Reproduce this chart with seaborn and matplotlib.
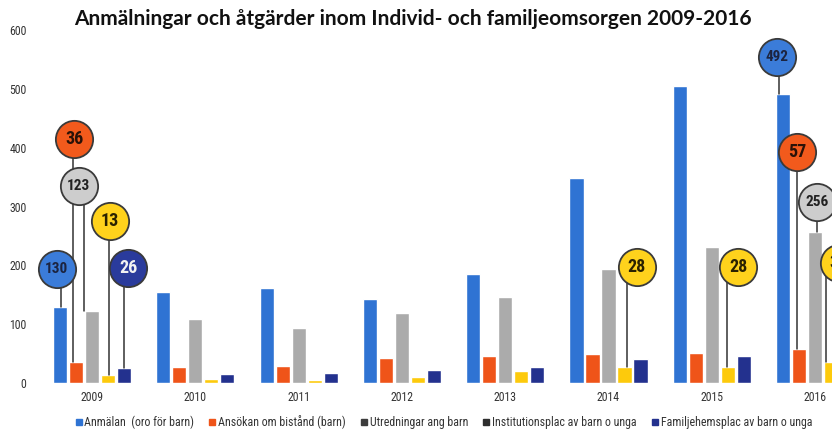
import numpy as np
import pandas as pd
import matplotlib
matplotlib.use("Agg")
import matplotlib.pyplot as plt
from matplotlib.lines import Line2D
from matplotlib import font_manager
import seaborn as sns

# ---- data ----
years = ["2009", "2010", "2011", "2012", "2013", "2014", "2015", "2016"]
series = ["Anmälan  (oro för barn)", "Ansökan om bistånd (barn)", "Utredningar ang barn",
          "Institutionsplac av barn o unga", "Familjehemsplac av barn o unga"]
anmalan = [130, 154, 161, 142, 186, 349, 504, 492]
ansokan = [36, 27, 29, 43, 46, 50, 51, 57]
utredningar = [123, 108, 94, 119, 146, 194, 231, 256]
institution = [13, 7, 5, 11, 20, 28, 28, 36]
familjehem = [26, 15, 17, 22, 27, 40, 46, 50]
values = [anmalan, ansokan, utredningar, institution, familjehem]
title = "Anmälningar och åtgärder inom Individ- och familjeomsorgen 2009-2016"
yticks = [0, 100, 200, 300, 400, 500, 600]

# ---- styles ----
bar_colors = ["#2f73d3", "#ef5419", "#ababab", "#fdca0c", "#23318e"]
circle_colors = ["#3b7cd9", "#f25a1c", "#cdcdcd", "#ffd21c", "#2a3b9c"]
circle_text = ["#1c2440", "#2a1208", "#222222", "#2a2200", "#f2f2f2"]
legend_colors = ["#2f73d3", "#ef5419", "#3c3c3c", "#2e2e2e", "#23318e"]

# callout layout: (year index, series index, circle dx, circle y, stem dx)
callouts = [
    (0, 0, -0.34, 194, -0.30),
    (0, 1, -0.17, 415, -0.18),
    (0, 2, -0.13, 335, -0.08),
    (0, 3, 0.17, 275, 0.165),
    (0, 4, 0.35, 195, 0.31),
    (5, 3, 0.275, 197, 0.18),
    (6, 3, 0.255, 197, 0.15),
    (7, 0, -0.37, 554, -0.35),
    (7, 1, -0.175, 393, -0.175),
    (7, 2, 0.02, 308, 0.02),
    (7, 3, 0.23, 204, 0.11),
]

def pick(*names):
    avail = {f.name for f in font_manager.fontManager.ttflist}
    for n in names:
        if n in avail:
            return n
    return "DejaVu Sans"

narrow = pick("Liberation Sans Narrow", "Roboto Condensed", "Open Sans", "Liberation Sans")
title_font = pick("Lato", "Open Sans")

sns.set_theme(style="white")
plt.rcParams["font.family"] = [narrow, "DejaVu Sans"]

rows = []
for s, vals in zip(series, values):
    for y, v in zip(years, vals):
        rows.append({"year": y, "series": s, "value": v})
df = pd.DataFrame(rows)

W, H = 832, 432
fig = plt.figure(figsize=(W / 100, H / 100), dpi=100)
step = 103.3
left_px = 92 - step / 2
ax = fig.add_axes([left_px / W, 49 / H, (W - left_px) / W, 353 / H])

sns.barplot(data=df, x="year", y="value", hue="series", hue_order=series,
            palette=bar_colors, width=0.775, gap=0.12, saturation=1,
            legend=False, ax=ax, zorder=2)

ax.set_xlim(-0.5, (W - 92) / step)
ax.set_ylim(0, 600)
ax.set_yticks(yticks)
ax.set_yticklabels([str(t) for t in yticks])
ax.set_xlabel("")
ax.set_ylabel("")
for sp in ax.spines.values():
    sp.set_visible(False)
ax.tick_params(axis="both", length=0, labelsize=8.5, colors="#333333")
ax.tick_params(axis="y", pad=10)
ax.tick_params(axis="x", pad=6)
ax.grid(False)

for (yi, si, cdx, cy, sdx) in callouts:
    v = values[si][yi]
    ax.plot([yi + sdx, yi + sdx], [v, cy], color="#333333", lw=1.1,
            zorder=3, clip_on=False)
    ax.scatter([yi + cdx], [cy], s=720, color=circle_colors[si],
               edgecolor="#3a3a3a", linewidth=1.3, zorder=4, clip_on=False)
    txt = str(v)
    ax.text(yi + cdx, cy, txt, ha="center", va="center",
            fontsize=13 if len(txt) < 3 else 11, fontweight="bold",
            color=circle_text[si], zorder=5, clip_on=False)

fig.text(413 / W, 1 - 19 / H, title, ha="center", va="center",
         fontsize=15, fontweight="bold", family=[title_font, "DejaVu Sans"],
         color="#111111")

handles = [Line2D([], [], marker="s", linestyle="", markersize=5,
                  color=c) for c in legend_colors]
fig.legend(handles, series, loc="center", bbox_to_anchor=(443 / W, 10 / H),
           ncol=5, frameon=False, fontsize=8.6, handletextpad=0.1,
           columnspacing=1.1, handlelength=0.8, labelcolor="#333333",
           borderpad=0.1)

fig.savefig("out.png", dpi=100)
